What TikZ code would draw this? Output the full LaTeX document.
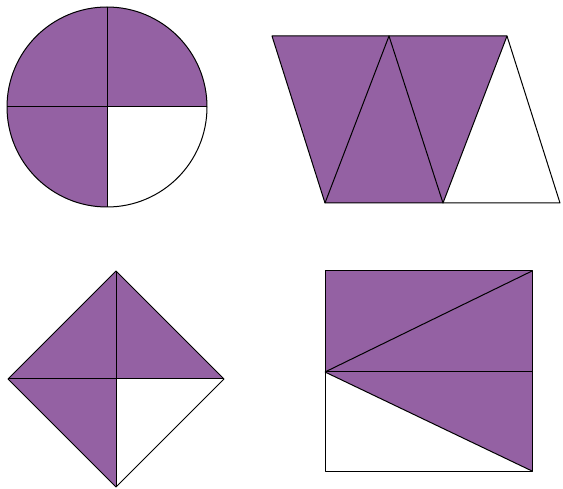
\documentclass[tikz,border=0pt]{standalone}
\usepackage{tikz}
\usetikzlibrary{calc}
\definecolor{shade}{RGB}{148,97,163}

\begin{document}
\begin{tikzpicture}[
    x=1pt, y=1pt,
    part/.style={fill=shade},
    edge/.style={draw=black, line width=1pt, line join=round}
]
    \useasboundingbox (0,0) rectangle (563,488);

    % circle in quarters
    \coordinate (c0) at (107,381);
    \fill[part] (c0) -- ++(100,0) arc (0:270:100) -- cycle;
    \draw[edge] (c0) circle (100);
    \draw[edge] ($(c0)+(-100,0)$) -- ($(c0)+(100,0)$);
    \draw[edge] ($(c0)+(0,100)$) -- ($(c0)+(0,-100)$);

    % trapezium of four triangles
    \coordinate (tl) at (272,452);
    \coordinate (tm) at (389,452);
    \coordinate (tr) at (507,452);
    \coordinate (bl) at (325,285);
    \coordinate (bm) at (443,285);
    \coordinate (br) at (560,285);
    \fill[part] (tl) -- (tr) -- (bm) -- (bl) -- cycle;
    \draw[edge] (tl) -- (tr) -- (br) -- (bl) -- cycle;
    \draw[edge] (bl) -- (tm) -- (bm) -- (tr);

    % square on its corner
    \coordinate (dt) at (116,217);
    \coordinate (dl) at (8,109);
    \coordinate (dr) at (224,109);
    \coordinate (db) at (116,1);
    \coordinate (dc) at (116,109);
    \fill[part] (dl) -- (dt) -- (dr) -- (dc) -- (db) -- cycle;
    \draw[edge] (dt) -- (dr) -- (db) -- (dl) -- cycle;
    \draw[edge] (dl) -- (dr);
    \draw[edge] (dt) -- (db);

    % rectangle
    \coordinate (rtl) at (325,217);
    \coordinate (rtr) at (532,217);
    \coordinate (rml) at (325,116);
    \coordinate (rmr) at (532,116);
    \coordinate (rbl) at (325,17);
    \coordinate (rbr) at (532,17);
    \fill[part] (rtl) -- (rtr) -- (rbr) -- (rml) -- cycle;
    \draw[edge] (rtl) -- (rtr) -- (rbr) -- (rbl) -- cycle;
    \draw[edge] (rml) -- (rmr);
    \draw[edge] (rml) -- (rtr);
    \draw[edge] (rml) -- (rbr);
\end{tikzpicture}
\end{document}
